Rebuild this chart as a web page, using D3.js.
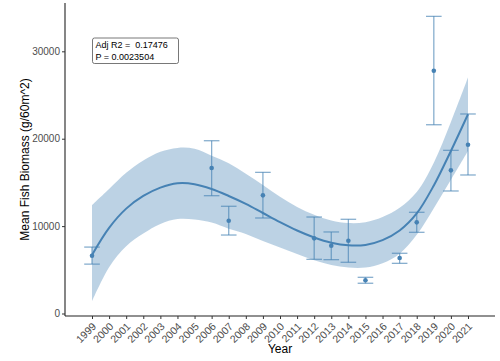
<!DOCTYPE html>
<html>
<head>
<meta charset="utf-8">
<script src="https://cdn.jsdelivr.net/npm/d3@7"></script>
<style>
  html, body { margin: 0; padding: 0; background: #ffffff; }
  svg { display: block; }
  text { font-family: "Liberation Sans", Arial, sans-serif; }
</style>
</head>
<body>
<svg id="chart" width="500" height="361"></svg>
<script>
// ---- Data ----
const fitYears = [1999,2000,2001,2002,2003,2004,2005,2006,2007,2008,2009,2010,2011,2012,2013,2014,2015,2016,2017,2018,2019,2020,2021];
const fitValues = [6700,9800,12000,13450,14400,14900,14800,14250,13450,12550,11500,10450,9500,8700,8100,7800,7850,8400,9500,11450,14650,18600,22800];
const fitLower  = [1400,5300,7700,9150,10250,10800,10750,10400,9700,9100,8300,7550,6800,6100,5550,5250,5250,5750,6850,9000,12050,15300,18600];
const fitUpper  = [12400,14250,16100,17500,18500,18950,18850,18050,17200,16000,14700,13350,12200,11300,10650,10350,10450,11050,12100,13900,17250,21900,27000];

const pointYears = [1999,2006,2007,2009,2012,2013,2014,2015,2017,2018,2019,2020,2021];
const meanBiomass = [6600,16650,10620,13520,8600,7760,8330,3800,6350,10430,27780,16380,19310];
const errLow  = [5650,13480,8980,10930,6200,6160,5860,3460,5740,9290,21600,14020,15850];
const errHigh = [7600,19770,12270,16150,11040,9330,10780,4140,6890,11580,34000,18670,22830];

const xTickYears = d3.range(1999, 2022);
const yTicks = [0, 10000, 20000, 30000];
const annotationLines = ["Adj R2 =  0.17476", "P = 0.0023504"];
const xTitle = "Year";
const yTitle = "Mean Fish Biomass (g/60m^2)";

// ---- Layout ----
const svg = d3.select("#chart");
const color = "#4682b4";

const x = d3.scaleLinear().domain([1997.42, 2022.58]).range([65, 495]);
const y = d3.scaleLinear().domain([-286, 35530]).range([316, 3]);

const fitData = fitYears.map((yr, i) => ({yr, v: fitValues[i], lo: fitLower[i], hi: fitUpper[i]}));
const ptData = pointYears.map((yr, i) => ({yr, m: meanBiomass[i], lo: errLow[i], hi: errHigh[i]}));

// ribbon
svg.append("path")
  .datum(fitData)
  .attr("fill", "rgba(70,130,180,0.36)")
  .attr("stroke", "none")
  .attr("d", d3.area().x(d => x(d.yr)).y0(d => y(d.lo)).y1(d => y(d.hi)).curve(d3.curveCatmullRom.alpha(0.5)));

// fitted line
svg.append("path")
  .datum(fitData)
  .attr("fill", "none")
  .attr("stroke", color)
  .attr("stroke-width", 2)
  .attr("d", d3.line().x(d => x(d.yr)).y(d => y(d.v)).curve(d3.curveCatmullRom.alpha(0.5)));

// error bars
const eb = svg.append("g").attr("stroke", color).attr("stroke-opacity", 0.65).attr("stroke-width", 1.3);
eb.selectAll("line.v").data(ptData).join("line")
  .attr("x1", d => x(d.yr)).attr("x2", d => x(d.yr))
  .attr("y1", d => y(d.lo)).attr("y2", d => y(d.hi));
eb.selectAll("line.t").data(ptData).join("line")
  .attr("x1", d => x(d.yr) - 7.8).attr("x2", d => x(d.yr) + 7.8)
  .attr("y1", d => y(d.hi)).attr("y2", d => y(d.hi));
eb.selectAll("line.b").data(ptData).join("line")
  .attr("x1", d => x(d.yr) - 7.8).attr("x2", d => x(d.yr) + 7.8)
  .attr("y1", d => y(d.lo)).attr("y2", d => y(d.lo));

// points
svg.append("g").selectAll("circle").data(ptData).join("circle")
  .attr("cx", d => x(d.yr)).attr("cy", d => y(d.m)).attr("r", 2.3)
  .attr("fill", color);

// axes
const yAxis = svg.append("g").attr("transform", "translate(65,0)")
  .call(d3.axisLeft(y).tickValues(yTicks).tickSize(3).tickPadding(2).tickFormat(d3.format("d")));
const xAxis = svg.append("g").attr("transform", "translate(0,316)")
  .call(d3.axisBottom(x).tickValues(xTickYears).tickSize(3).tickFormat(d3.format("d")));

[yAxis, xAxis].forEach(g => {
  g.select(".domain").attr("stroke", "#222").attr("stroke-width", 1.1);
  g.selectAll(".tick line").attr("stroke", "#333");
  g.selectAll(".tick text").attr("fill", "#4d4d4d").style("font-size", "10px")
    .style("font-family", '"Liberation Sans", Arial, sans-serif');
});
yAxis.select(".domain").attr("d", `M0,${3}V316`);
xAxis.select(".domain").attr("d", `M65,0H495`);

xAxis.selectAll(".tick text")
  .style("font-size", "10.5px")
  .attr("text-anchor", "end")
  .attr("x", 0).attr("y", 0).attr("dy", 0)
  .attr("transform", "translate(4.5,11) rotate(-45)");

// axis titles
svg.append("text")
  .attr("x", 280).attr("y", 353)
  .attr("text-anchor", "middle")
  .style("font-size", "12px").attr("fill", "#000")
  .text(xTitle);
svg.append("text")
  .attr("transform", "translate(29,159.5) rotate(-90)")
  .attr("text-anchor", "middle")
  .style("font-size", "12px").attr("fill", "#000")
  .text(yTitle);

// annotation label
svg.append("rect")
  .attr("x", 92.5).attr("y", 38).attr("width", 86).attr("height", 25.5)
  .attr("rx", 2).attr("ry", 2)
  .attr("fill", "#fff").attr("stroke", "#555").attr("stroke-width", 0.8);
svg.append("g").selectAll("text").data(annotationLines).join("text")
  .attr("x", 95.5).attr("y", (d, i) => 47.5 + i * 12.5)
  .style("font-size", "9px").style("white-space", "pre").attr("xml:space", "preserve")
  .attr("fill", "#000")
  .text(d => d);
</script>
</body>
</html>
